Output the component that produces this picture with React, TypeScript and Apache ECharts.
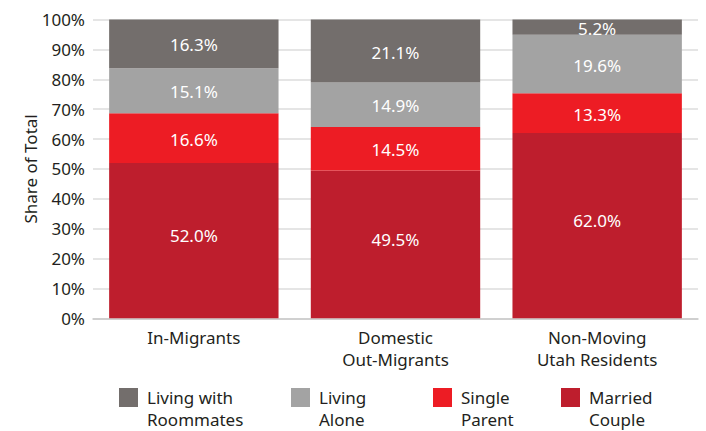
import React, { useEffect, useRef } from "react";
import * as echarts from "echarts";

const categories = ["In-Migrants", "Domestic\nOut-Migrants", "Non-Moving\nUtah Residents"];
const marriedCouple = [52.0, 49.5, 62.0];
const singleParent = [16.6, 14.5, 13.3];
const livingAlone = [15.1, 14.9, 19.6];
const livingWithRoommates = [16.3, 21.1, 5.2];
const yTicks = [0, 10, 20, 30, 40, 50, 60, 70, 80, 90, 100];

const FONT = "Noto Sans";
const TEXT = "#231f20";

const seriesDefs = [
  { name: "Married Couple", label: "Married\nCouple", data: marriedCouple, color: "#be1e2d", dy: -5 },
  { name: "Single Parent", label: "Single\nParent", data: singleParent, color: "#ed1c24", dy: 1 },
  { name: "Living Alone", label: "Living\nAlone", data: livingAlone, color: "#a3a3a3", dy: 1 },
  { name: "Living with Roommates", label: "Living with\nRoommates", data: livingWithRoommates, color: "#736e6c", dy: 1 },
];

const legendOrder = ["Living with Roommates", "Living Alone", "Single Parent", "Married Couple"];
const legendLeft = [119, 291, 433, 561];

export default function App() {
  const ref = useRef<HTMLDivElement>(null);
  useEffect(() => {
    if (!ref.current) return;
    const chart = echarts.init(ref.current, null, { renderer: "svg" });
    const labelMap: Record<string, string> = {};
    seriesDefs.forEach((s) => (labelMap[s.name] = " \n" + s.label));
    chart.setOption({
      animation: false,
      grid: { left: 93, right: 8, top: 19.5, bottom: 431 - 318.3 },
      xAxis: {
        type: "category",
        data: categories,
        axisLine: { lineStyle: { color: "#c8c8c8", width: 1.5 } },
        axisTick: { show: false },
        axisLabel: { color: TEXT, fontFamily: FONT, fontSize: 17, lineHeight: 22, margin: 8 },
      },
      yAxis: {
        type: "value",
        min: 0,
        max: 100,
        interval: 10,
        name: "Share of Total",
        nameLocation: "middle",
        nameGap: 54,
        nameMoveOverlap: false,
        nameTextStyle: { color: TEXT, fontFamily: FONT, fontSize: 17 },
        axisLabel: {
          color: TEXT,
          fontFamily: FONT,
          fontSize: 17,
          margin: 8,
          formatter: (v: number) => (yTicks.includes(v) ? v + "%" : ""),
        },
        splitLine: { lineStyle: { color: "#dcdcdc", width: 1.5 } },
        axisLine: { show: false },
        axisTick: { show: false },
      },
      legend: legendOrder.map((name, i) => ({
        data: [name],
        left: legendLeft[i],
        top: 364.5,
        padding: 0,
        itemWidth: 19,
        itemHeight: 19,
        itemGap: 0,
        icon: "rect",
        formatter: (n: string) => labelMap[n],
        textStyle: {
          color: TEXT,
          fontFamily: FONT,
          fontSize: 17,
          lineHeight: 22,
          padding: [0, 0, 0, 4],
        },
      })),
      series: seriesDefs.map((s) => ({
        name: s.name,
        type: "bar",
        stack: "total",
        data: s.data,
        barCategoryGap: "16%",
        itemStyle: { color: s.color },
        label: {
          show: true,
          position: "inside",
          offset: [0, s.dy],
          color: "#ffffff",
          fontFamily: FONT,
          fontSize: 17,
          formatter: (p: any) => Number(p.value).toFixed(1) + "%",
        },
      })),
    });
    return () => chart.dispose();
  }, []);
  return <div ref={ref} style={{ width: 706, height: 431, position: "absolute", left: 0, top: 0 }} />;
}
